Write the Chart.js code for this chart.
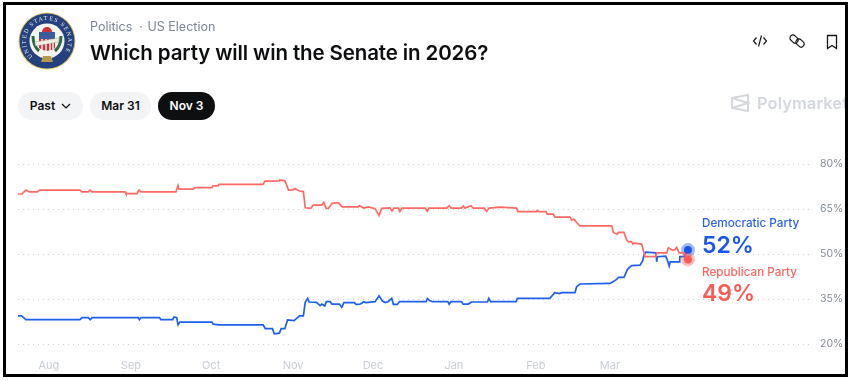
<!DOCTYPE html>
<html>
<head>
<meta charset="utf-8">
<title>Which party will win the Senate in 2026?</title>
<script src="https://cdn.jsdelivr.net/npm/chart.js@4"></script>
<style>
  html, body { margin: 0; padding: 0; background: #fff; }
  body { width: 851px; height: 381px; overflow: hidden; position: relative; font-family: Inter, sans-serif; }
  #frame { position: absolute; left: 3px; top: 2px; width: 839px; height: 369px; border: 3px solid #000; z-index: 5; pointer-events: none; }
  #chartPolymarket { position: absolute; left: 0; top: 0; }
  .abs { position: absolute; white-space: nowrap; }
  #crumbs { left: 90px; top: 19px; font-size: 12.5px; line-height: 16px; color: #7b8496; }
  #title { left: 90px; top: 39px; font-size: 20.5px; line-height: 28px; font-weight: 600; color: #0d0e10; letter-spacing: -0.12px; }
  .pill { top: 92px; height: 28px; line-height: 28px; border-radius: 14px; background: #f3f4f6; color: #0d0e10; font-size: 12px; font-weight: 600; text-align: center; }
  #mark { left: 757px; top: 93px; font-size: 16.6px; line-height: 21px; font-weight: 600; color: #d4d8dd; width: 88px; overflow: hidden; }
  .name { left: 702px; font-size: 11.7px; line-height: 16px; font-weight: 500; }
  .pct { left: 702px; font-size: 23px; line-height: 28px; font-weight: 600; }
</style>
</head>
<body>
<canvas id="chartPolymarket" width="851" height="381"></canvas>

<svg class="abs" style="left:18px;top:12px" width="58" height="58" viewBox="0 0 58 58">
  <circle cx="29" cy="29" r="28.5" fill="#e2c86a"/>
  <circle cx="29" cy="29" r="27.5" fill="#24407e"/>
  <circle cx="29" cy="29" r="17.5" fill="#f4f4ee"/>
  <defs><path id="ring" d="M29 29 m-21 0 a21 21 0 1 1 42 0 a21 21 0 1 1 -42 0"/></defs>
  <text font-size="6" font-family="Liberation Serif" fill="#f2f0e4" letter-spacing="1.3" transform="rotate(-48 29 29)"><textPath href="#ring">UNITED STATES SENATE</textPath></text>
  <path d="M24 20 a5 5 0 0 1 10 0 z" fill="#c8323a"/>
  <rect x="21" y="20" width="16" height="7" fill="#3d5a9c"/>
  <path d="M21 27 h16 v9 q-8 6 -16 0 z" fill="#c8323a"/>
  <path d="M24 27 v11 M28 27 v12 M32 27 v12 M35 27 v10" stroke="#fff" stroke-width="1.4"/>
  <path d="M15 24 q0 10 6 15 M43 24 q0 10 -6 15" stroke="#2c6a45" stroke-width="3" fill="none"/>
  <rect x="17" y="28" width="24" height="4" fill="#f1efe2" stroke="#777" stroke-width="0.3" transform="rotate(-10 29 30)"/>
  <path d="M25 44 h8 l2 6 h-12 z" fill="#b59a4a"/>
</svg>

<div class="abs" id="crumbs">Politics&nbsp; ·&nbsp;<span style="margin-left:1px">US Election</span></div>
<div class="abs" id="title">Which party will win the Senate in 2026?</div>

<div class="abs pill" style="left:18px;width:65px;">Past
  <svg width="10" height="6" viewBox="0 0 10 6" style="margin-left:3px;vertical-align:1px"><path d="M1 1 L5 5 L9 1" fill="none" stroke="#0d0e10" stroke-width="1.2"/></svg>
</div>
<div class="abs pill" style="left:90px;width:61px;">Mar 31</div>
<div class="abs pill" style="left:158px;width:57px;background:#0e0f11;color:#fff;">Nov 3</div>

<svg class="abs" style="left:752px;top:33px" width="16" height="16" viewBox="0 0 16 16" fill="none" stroke="#14161a" stroke-width="1.2">
  <path d="M4.5 4.5 L1.5 8 L4.5 11.5 M11.5 4.5 L14.5 8 L11.5 11.5 M9.5 2.5 L6.5 13.5"/>
</svg>
<svg class="abs" style="left:789px;top:33px" width="16" height="16" viewBox="0 0 16 16" fill="none" stroke="#14161a" stroke-width="1.2">
  <rect x="0.5" y="3" width="9" height="6" rx="3" transform="rotate(45 5 6)"/>
  <rect x="6.5" y="7" width="9" height="6" rx="3" transform="rotate(45 11 10)"/>
</svg>
<svg class="abs" style="left:825px;top:34px" width="14" height="16" viewBox="0 0 14 16" fill="none" stroke="#14161a" stroke-width="1.3">
  <path d="M2.5 1.5 H11.5 V14.5 L7 11.5 L2.5 14.5 Z"/>
</svg>

<svg class="abs" style="left:730px;top:93px" width="20" height="20" viewBox="0 0 20 20" fill="none" stroke="#d4d8dd" stroke-width="2">
  <path d="M2 5 L18 2 V18 L2 15 Z M2 5 L18 10 L2 15"/>
</svg>
<div class="abs" id="mark">Polymarket</div>

<div class="abs name" style="top:215px;color:#2a62ec;">Democratic Party</div>
<div class="abs pct" style="top:231px;color:#1a55ee;">52%</div>
<div class="abs name" style="top:264px;color:#fc6560;">Republican Party</div>
<div class="abs pct" style="top:279px;color:#fc5a55;">49%</div>

<div id="frame"></div>

<script>
const monthLabels = ['Aug', 'Sep', 'Oct', 'Nov', 'Dec', 'Jan', 'Feb', 'Mar'];
const monthDays = [11.7, 42.7, 73, 104, 134.2, 164.8, 195.8, 223.8];
const yTicks = [20, 35, 50, 65, 80];

// days counted from the first point, about Jul 20
const repDays = [0, 1.5, 3, 4.2, 7.2, 8.3, 23.4, 24.2, 26.5, 27.2, 28, 40.5, 40.8, 45, 45.7, 46.5, 59.7, 60.5, 60.9, 66.2, 66.9, 73.3, 73.7, 75.6, 76, 92.6, 93.4, 98.7, 99, 100.9, 102.3, 104, 104.7, 105.5, 106.4, 107.9, 108.6, 110.7, 111.6, 114.8, 115.6, 116.5, 117.3, 118.8, 121.1, 122.6, 128.7, 129, 130.8, 132.4, 135, 136.5, 137.5, 140.6, 141.4, 142.2, 143.8, 144.4, 145.2, 153.9, 154.7, 155.4, 162.1, 163, 163.8, 167.7, 168.4, 169, 171.2, 172.1, 176.2, 177.2, 178.1, 182.2, 188.5, 189, 196.1, 196.3, 196.9, 199.6, 200.1, 202.4, 203, 208.7, 209.3, 210.2, 211.2, 212.5, 224.5, 225.1, 226.6, 227, 229.1, 230.1, 230.7, 232, 232.5, 232.9, 235.8, 236.4, 237.1, 241.2, 241.5, 245.3, 245.9, 247.6, 248.4, 249, 250, 251.8, 253.3];
const repValues = [70, 70, 71.3, 70.7, 70.7, 71.3, 71.3, 70.7, 70.7, 71.3, 70.7, 70.7, 70.1, 70.1, 71.3, 70.7, 70.7, 72.8, 71.6, 71.6, 72.1, 72.1, 72.7, 72.7, 73.2, 73.2, 74.3, 74.4, 74.7, 74.4, 71.3, 71.4, 71.8, 71.4, 71, 70.8, 65.4, 65.2, 66.3, 66.3, 67.2, 65.2, 65.2, 66.9, 67.1, 65.7, 65.7, 66.1, 65.3, 65.7, 65.1, 62.8, 65.2, 65.4, 64.3, 65.3, 65.3, 64.2, 65.3, 65.3, 64.3, 65.3, 65.3, 66.1, 65.3, 65.3, 66, 65.3, 66.1, 65.3, 65.3, 64.2, 65.3, 65.6, 65.3, 64.1, 64.1, 64.5, 64.1, 64.1, 63.3, 63.3, 62.3, 62.3, 61.3, 61.6, 60.5, 59.4, 59.4, 57.2, 56.6, 57.2, 57.2, 54.7, 54.1, 54.1, 53.3, 53.6, 53.3, 51.3, 49.1, 49.1, 50.4, 50.4, 52.1, 51.2, 51.5, 52.2, 50.4, 50.4, 48.2];

const demDays = [0, 1.3, 3, 23.4, 24.2, 26.6, 27.3, 28, 45.5, 45.9, 46.5, 53.5, 54, 58.5, 59, 60, 60.5, 61.2, 73.3, 73.8, 75.9, 92.7, 93.5, 96.2, 96.9, 98.8, 99.5, 100.9, 101.9, 104.4, 106.4, 107.9, 108.6, 109.5, 110.1, 112.9, 114.2, 114.9, 116, 116.6, 118, 118.7, 121.5, 122.4, 123.2, 127.2, 127.8, 129.2, 130, 130.6, 131.6, 135, 136.5, 137.8, 138.8, 139.9, 141.3, 141.9, 143.4, 144.2, 154.3, 154.8, 155.6, 156.7, 162.5, 163, 163.7, 167.7, 168.3, 170.2, 171.5, 177.5, 178, 178.7, 188.3, 188.8, 201.1, 202.9, 204.7, 205.6, 210.6, 211.2, 212.5, 223.8, 225.1, 226.4, 227, 229.1, 230.5, 232, 235.2, 236.2, 236.7, 237.3, 241.2, 241.5, 241.7, 244.9, 245.5, 246.2, 246.6, 250, 250.2, 251.9, 253.3];
const demValues = [29.4, 29.4, 28.1, 28.1, 28.8, 28.8, 28.1, 28.8, 28.8, 28.1, 28.8, 28.8, 28.1, 28.1, 29, 28.8, 26.4, 27.3, 27.3, 26.6, 26.4, 26.4, 25.1, 25.1, 23.4, 23.6, 25.1, 25.1, 28, 27.8, 29.4, 29.4, 33.9, 35.2, 34, 33.9, 32.8, 33.3, 32.7, 34.1, 34.1, 33.3, 33.3, 32.2, 33.8, 33.8, 33.2, 33.3, 33.6, 34.1, 33.8, 34.1, 36.1, 34.3, 33.8, 34.1, 35.2, 33.2, 33.2, 34.1, 34.1, 35.2, 34.5, 34.1, 34.1, 33.3, 34.1, 34.1, 33.3, 33.3, 34, 34, 35.2, 34.1, 34.1, 35.2, 35.2, 37.1, 36.8, 37.1, 37.1, 39.1, 40, 40.2, 40.8, 41.6, 42.2, 42.2, 45, 46.1, 46.3, 47.8, 49.7, 50.6, 50.4, 47.4, 49.1, 49.3, 48, 46, 47.4, 47.4, 49.1, 49.1, 51.3];

const toPoints = (days, values) => days.map((d, i) => ({ x: d, y: values[i] }));
const endOnly = (on, off) => ctx => ctx.dataIndex === ctx.dataset.data.length - 1 ? on : off;

const ctxPolymarket = document.getElementById('chartPolymarket').getContext('2d');

const configPolymarket = {
  type: 'line',
  data: {
    datasets: [{
      label: 'Republican Party',
      data: toPoints(repDays, repValues),
      borderColor: '#ff6a64',
      backgroundColor: '#ff5a55',
      borderWidth: 1.7,
      tension: 0,
      pointRadius: endOnly(4, 0),
      pointBorderWidth: endOnly(6, 0),
      pointBorderColor: 'rgba(255,90,85,0.4)',
      pointBackgroundColor: '#ff5a55'
    }, {
      label: 'Democratic Party',
      data: toPoints(demDays, demValues),
      borderColor: '#1f5fee',
      backgroundColor: '#1a55ee',
      borderWidth: 1.7,
      tension: 0,
      pointRadius: endOnly(4, 0),
      pointBorderWidth: endOnly(6, 0),
      pointBorderColor: 'rgba(26,85,238,0.4)',
      pointBackgroundColor: '#1a55ee'
    }]
  },
  options: {
    responsive: false,
    animation: false,
    layout: { padding: { left: 18, right: 0, top: 152, bottom: 0 } },
    plugins: {
      legend: { display: false },
      tooltip: { enabled: false },
      title: { display: false }
    },
    scales: {
      x: {
        type: 'linear',
        min: 0,
        max: 300.2,
        grid: { display: false, drawTicks: false, tickLength: 0 },
        border: { display: false },
        afterBuildTicks: axis => { axis.ticks = monthDays.map(v => ({ value: v })); },
        afterFit: axis => { axis.height = 22; },
        ticks: {
          autoSkip: false,
          maxRotation: 0,
          padding: 0,
          color: '#c9ced6',
          font: { family: 'Inter', size: 11 },
          callback: value => monthLabels[monthDays.indexOf(value)]
        }
      },
      y: {
        position: 'right',
        min: 15,
        max: 84,
        border: { display: false, dash: [1, 4] },
        grid: {
          color: '#cfd2d6',
          lineWidth: 1,
          drawTicks: false,
          tickLength: 0
        },
        afterBuildTicks: axis => { axis.ticks = yTicks.map(v => ({ value: v })); },
        afterFit: axis => { axis.width = 39; },
        ticks: {
          padding: 8,
          color: '#858d95',
          font: { family: 'Inter', size: 10.5 },
          callback: value => value + '%'
        }
      }
    }
  }
};

new Chart(ctxPolymarket, configPolymarket);
</script>
</body>
</html>
